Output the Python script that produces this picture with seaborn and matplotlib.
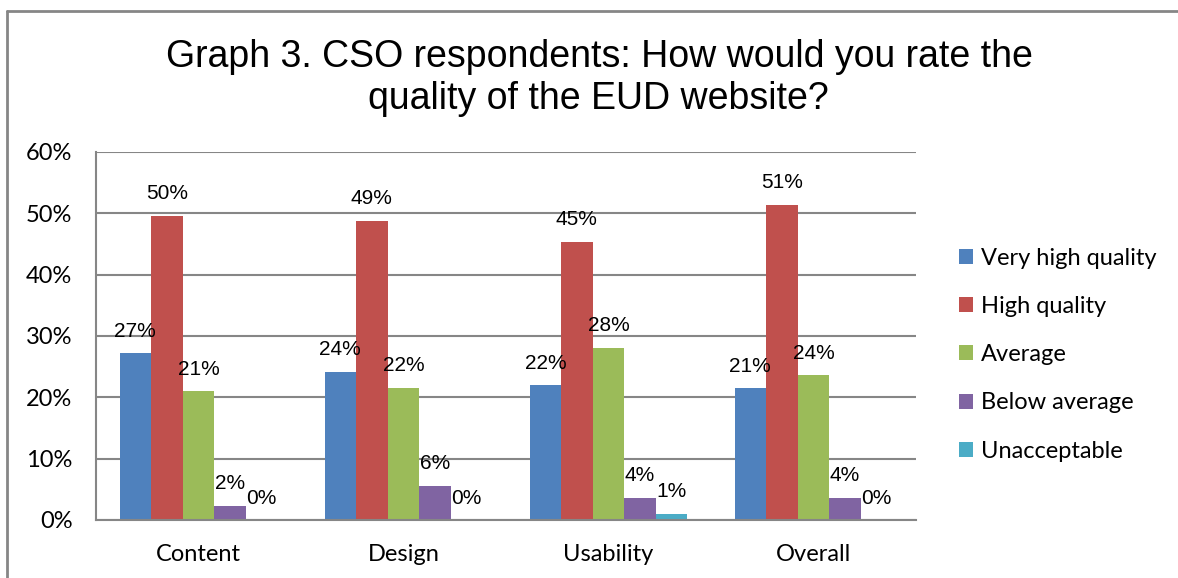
import matplotlib
matplotlib.use("Agg")
import matplotlib.pyplot as plt
import matplotlib.patches as mpatches
from matplotlib.lines import Line2D
import seaborn as sns
import pandas as pd
from matplotlib.ticker import FixedLocator, FuncFormatter

categories = ["Content", "Design", "Usability", "Overall"]
ratings = ["Very high quality", "High quality", "Average", "Below average", "Unacceptable"]
very_high = [27.2, 24.2, 22.0, 21.5]
high = [49.6, 48.8, 45.4, 51.4]
average = [21.0, 21.6, 28.1, 23.6]
below = [2.3, 5.6, 3.6, 3.6]
unacceptable = [0.0, 0.0, 1.0, 0.0]
labels = {
    "Very high quality": ["27%", "24%", "22%", "21%"],
    "High quality": ["50%", "49%", "45%", "51%"],
    "Average": ["21%", "22%", "28%", "24%"],
    "Below average": ["2%", "6%", "4%", "4%"],
    "Unacceptable": ["0%", "0%", "1%", "0%"],
}
colors = ["#4F81BD", "#C0504D", "#9BBB59", "#8064A2", "#4BACC6"]

series = [very_high, high, average, below, unacceptable]
rows = []
for r, vals in zip(ratings, series):
    for c, v in zip(categories, vals):
        rows.append({"Category": c, "Rating": r, "Value": v})
df = pd.DataFrame(rows)

sns.set_style("white")
plt.rcParams.update({"text.color": "black", "xtick.color": "black",
                     "ytick.color": "black", "axes.labelcolor": "black"})
fig = plt.figure(figsize=(11.78, 5.78), dpi=100)
ax = fig.add_axes([96/1178, 58/578, (916-96)/1178, (520-152)/578])

sns.barplot(data=df, x="Category", y="Value", hue="Rating", order=categories,
            hue_order=ratings, palette=colors, width=0.77, saturation=1,
            gap=0, ax=ax, legend=False, edgecolor="none")

grid_c = "#868686"
ax.set_ylim(0, 60)
ax.set_xlim(-0.5, 3.5)
ax.yaxis.set_major_locator(FixedLocator([0, 10, 20, 30, 40, 50, 60]))
ax.yaxis.set_major_formatter(FuncFormatter(lambda v, p: f"{int(v)}%"))
ax.grid(axis="y", color=grid_c, linewidth=1.5)
ax.set_axisbelow(True)
for s in ["top", "right"]:
    ax.spines[s].set_visible(False)
for s in ["left", "bottom"]:
    ax.spines[s].set_color(grid_c)
    ax.spines[s].set_linewidth(1.5)
ax.set_xlabel("")
ax.set_ylabel("")

tick_font = "Lato"
ax.tick_params(axis="y", direction="out", length=6, width=1.5, color=grid_c,
               pad=11, labelsize=17, labelcolor="black")
ax.tick_params(axis="x", which="major", length=0, pad=17, labelsize=17, labelcolor="black")
ax.xaxis.set_minor_locator(FixedLocator([-0.5, 0.5, 1.5, 2.5, 3.5]))
ax.tick_params(axis="x", which="minor", direction="out", length=6, width=1.5, color=grid_c)
for t in ax.get_xticklabels() + ax.get_yticklabels():
    t.set_fontfamily(tick_font)

# bar labels
for cont, r in zip(ax.containers, ratings):
    for bar, lab in zip(cont, labels[r]):
        x = bar.get_x() + bar.get_width() / 2
        y = bar.get_height()
        ax.annotate(lab, (x, y), xytext=(0, 9), textcoords="offset points",
                    ha="center", va="bottom", fontsize=15,
                    fontfamily="Liberation Sans", color="black")

# legend
handles = [mpatches.Patch(facecolor=c, edgecolor="none") for c in colors]
fig.legend(handles, ratings, loc="upper left", bbox_to_anchor=(959/1178, (578-248)/578),
           frameon=False, borderpad=0, borderaxespad=0, handlelength=0.6,
           handleheight=0.6, handletextpad=0.33, labelspacing=1.15,
           prop={"family": tick_font, "size": 17}, labelcolor="black")

# title
fig.text(599/1178, 1 - 57/578, "Graph 3. CSO respondents: How would you rate the",
         ha="center", va="center", fontsize=27, fontfamily="Liberation Sans", color="black")
fig.text(598/1178, 1 - 99/578, "quality of the EUD website?",
         ha="center", va="center", fontsize=27, fontfamily="Liberation Sans", color="black")

# outer chart border (top and left visible)
fig.add_artist(Line2D([7/1178, 7/1178], [0, 1 - 11/578], transform=fig.transFigure,
                      color=grid_c, linewidth=2))
fig.add_artist(Line2D([7/1178, 1], [1 - 11/578, 1 - 11/578], transform=fig.transFigure,
                      color=grid_c, linewidth=2))

fig.savefig("out.png", dpi=100)
